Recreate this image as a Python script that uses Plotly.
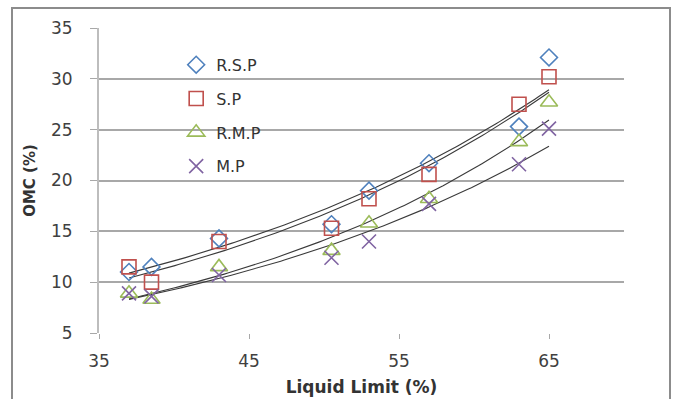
import numpy as np
import plotly.graph_objects as go

# Liquid limit (%) of the tested samples
liquid_limit = [37, 38.5, 43, 50.5, 53, 57, 63, 65]

# Optimum moisture content (%) for each sample set
omc_rsp = [11.0, 11.5, 14.3, 15.7, 19.0, 21.7, 25.3, 32.1]
omc_sp = [11.5, 10.0, 14.0, 15.3, 18.2, 20.6, 27.5, 30.2]
omc_rmp = [8.9, 8.3, 11.5, 13.1, 15.8, 18.2, 23.8, 27.7]
omc_mp = [8.9, 8.6, 10.7, 12.4, 14.0, 17.7, 21.6, 25.1]

series_names = ["R.S.P", "S.P", "R.M.P", "M.P"]
x_ticks = [35, 45, 55, 65]
y_ticks = [5, 10, 15, 20, 25, 30, 35]

series = [
    ("R.S.P", omc_rsp, "diamond-open", "#4F81BD", 13),
    ("S.P", omc_sp, "square-open", "#C0504D", 14),
    ("R.M.P", omc_rmp, "triangle-up-open", "#9BBB59", 15),
    ("M.P", omc_mp, "x-thin-open", "#8064A2", 14),
]

FONT = "'DejaVu Sans', sans-serif"
TEXT = "#404040"
GRID = "#A8A8A8"

fig = go.Figure()

# Exponential trendlines (least squares on ln y) over the data range
x_fit = np.linspace(min(liquid_limit), max(liquid_limit), 120)
for name, y, sym, col, size in series:
    b, ln_a = np.polyfit(liquid_limit, np.log(y), 1)
    fig.add_trace(go.Scatter(
        x=x_fit, y=np.exp(ln_a + b * x_fit), mode="lines",
        line=dict(color="#3a3a3a", width=1.1), showlegend=False,
        hoverinfo="skip"))

for i, (name, y, sym, col, size) in enumerate(series):
    fig.add_trace(go.Scatter(
        x=liquid_limit, y=y, mode="markers", name=name,
        legendgroup=f"g{i}",
        marker=dict(symbol=sym, size=size, color=col,
                    line=dict(color=col, width=1.6))))

fig.update_layout(
    width=684, height=399,
    margin=dict(l=99, r=60, t=28, b=66),
    paper_bgcolor="white", plot_bgcolor="white",
    font=dict(family=FONT, color=TEXT, size=17),
    legend=dict(x=0.147, y=0.935, xanchor="left", yanchor="top",
                bgcolor="rgba(0,0,0,0)", font=dict(size=16, color="#333333"),
                traceorder="grouped", tracegroupgap=10, itemwidth=30),
    showlegend=True,
)

fig.update_xaxes(
    range=[35, 70], tickvals=x_ticks, showgrid=False, zeroline=False,
    showline=False, ticks="outside", ticklen=5, tickcolor=GRID,
    ticklabelstandoff=8, automargin=False,
    tickfont=dict(size=17, color=TEXT),
    title=dict(text="<b>Liquid Limit (%)</b>", font=dict(size=17, color="#333333"),
               standoff=10),
)
fig.update_yaxes(
    range=[5, 35], tickvals=y_ticks, showgrid=True, gridcolor=GRID,
    gridwidth=1.8, zeroline=False, showline=True, linecolor="#BDBDBD",
    linewidth=1.8, ticks="outside", ticklen=7, tickcolor=GRID,
    ticklabelstandoff=14, automargin=False,
    tickfont=dict(size=17, color=TEXT),
    title=dict(text="<b>OMC (%)</b>", font=dict(size=15, color="#333333"),
               standoff=12),
)

# Outer chart frame
fig.add_shape(type="rect", xref="paper", yref="paper",
              x0=(12 - 99) / 525, x1=(670 - 99) / 525,
              y0=-0.3, y1=(333 - 8) / 305,
              line=dict(color="#8C8C8C", width=2), layer="below")

fig.write_html("out.html")
